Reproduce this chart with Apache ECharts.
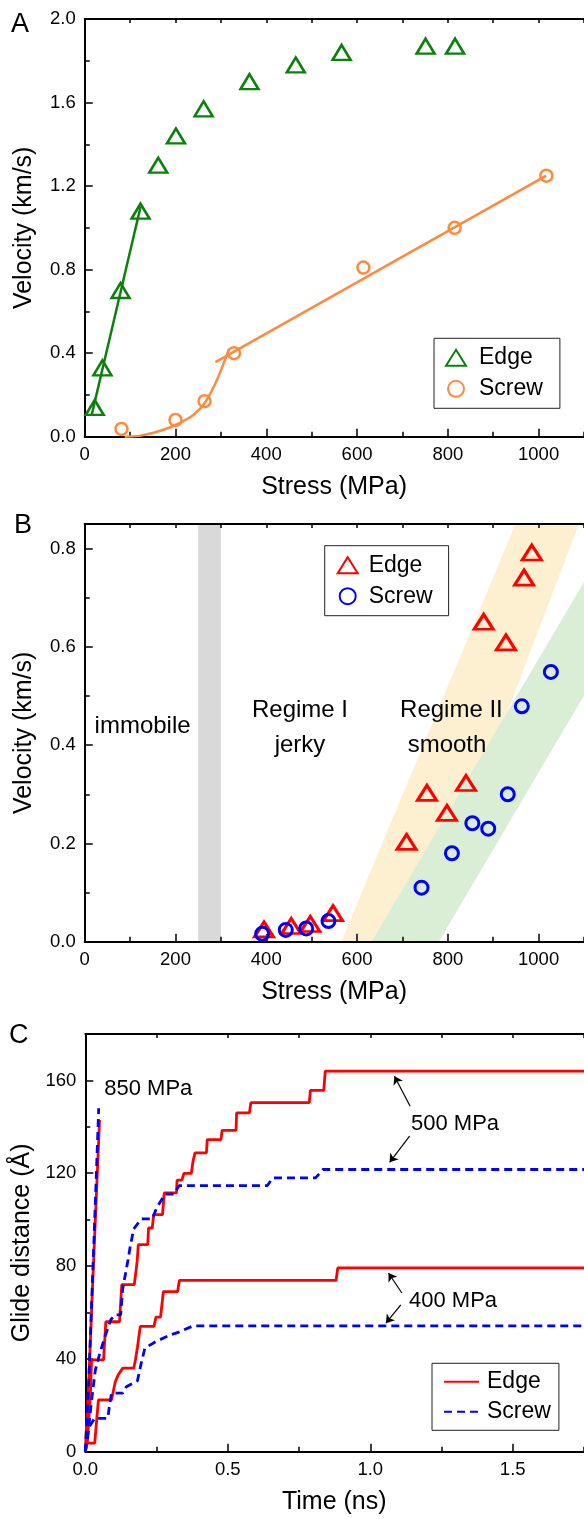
<!DOCTYPE html>
<html>
<head>
<meta charset="utf-8">
<script src="https://cdn.jsdelivr.net/npm/echarts@6/dist/echarts.min.js"></script>
<style>
  body { margin: 0; background: #fff; }
  .panel { width: 584px; }
</style>
</head>
<body>
<div id="chartA" class="panel" style="height:500px"></div>
<div id="chartB" class="panel" style="height:510px"></div>
<div id="chartC" class="panel" style="height:509px"></div>
<script>
// ---- panel A: velocity vs stress ----
const edgeStressA = [22, 39, 79, 123, 162, 201, 262, 363, 465, 566, 751, 816]
const edgeVelA = [0.14, 0.33, 0.70, 1.08, 1.30, 1.44, 1.57, 1.70, 1.78, 1.84, 1.87, 1.87]
const screwStressA = [81, 200, 264, 329, 614, 815, 1017]
const screwVelA = [0.037, 0.08, 0.17, 0.40, 0.81, 1.00, 1.25]
// fitted lines drawn in the figure
const edgeFitA = [[15, 0.10], [123, 1.10]]
const screwCurveA = [[88, 0], [120, 0.004], [150, 0.018], [180, 0.038], [200, 0.056], [220, 0.078],
  [240, 0.105], [264, 0.16], [288, 0.256], [305, 0.345], [318, 0.42]]
const screwFitA = [[288, 0.357], [1017, 1.25]]

// ---- panel B: regimes ----
const edgeStressB = [395, 455, 497, 547, 709, 754, 798, 840, 879, 928, 968, 985]
const edgeVelB = [0.025, 0.032, 0.036, 0.058, 0.203, 0.303, 0.262, 0.323, 0.651, 0.609, 0.741, 0.792]
const screwStressB = [391, 443, 488, 537, 742, 809, 854, 889, 932, 963, 1027]
const screwVelB = [0.016, 0.024, 0.027, 0.042, 0.11, 0.18, 0.241, 0.23, 0.30, 0.479, 0.549]
const grayBandX = [250, 300, 300, 250]
const grayBandY = [0, 0, 0.85, 0.85]
const orangeBandX = [565, 949, 1089, 738]
const orangeBandY = [0, 0.85, 0.85, 0]
const greenBandX = [632, 780, 1100, 1100]
const greenBandY = [0, 0, 0.501, 0.732]

// ---- panel C: glide distance vs time ----
const edge850 = [[0, 0], [0.012, 30], [0.025, 70], [0.037, 105], [0.05, 143]]
const screw850 = [[0, 0], [0.012, 30], [0.024, 70], [0.036, 110], [0.047, 148]]
const edge500 = [[0, 0], [0.008, 5], [0.018, 25], [0.022, 39.6], [0.064, 39.6], [0.072, 56], [0.12, 56],
  [0.128, 72], [0.172, 72], [0.182, 82], [0.186, 89.2], [0.219, 89.2], [0.222, 96.4], [0.235, 96.4],
  [0.24, 102.2], [0.271, 102.2], [0.277, 111.5], [0.32, 111.5], [0.322, 117], [0.339, 117],
  [0.346, 119.9], [0.372, 119.9], [0.378, 125.2], [0.385, 128.8], [0.425, 128.8], [0.428, 134.5],
  [0.476, 134.5], [0.48, 138.5], [0.529, 138.5], [0.531, 146], [0.576, 146], [0.581, 150.4],
  [0.786, 150.4], [0.79, 155.7], [0.837, 155.7], [0.842, 164], [2.0, 164]]
const screw500 = [[0, 0], [0.01, 8], [0.02, 20], [0.035, 35], [0.05, 42], [0.07, 50], [0.09, 57],
  [0.105, 59], [0.124, 59], [0.131, 70], [0.15, 82.7], [0.157, 88], [0.17, 96], [0.196, 100.3],
  [0.235, 100.3], [0.25, 105], [0.28, 111], [0.31, 111], [0.33, 114.7], [0.639, 114.7], [0.658, 118],
  [0.808, 118], [0.834, 121.6], [2.0, 121.6]]
const edge400 = [[0, 0], [0.004, 3.7], [0.033, 3.7], [0.046, 22.3], [0.092, 22.3], [0.105, 30],
  [0.115, 33], [0.131, 36], [0.17, 36], [0.176, 39.6], [0.183, 45], [0.193, 54], [0.241, 54],
  [0.248, 58], [0.264, 58], [0.274, 69], [0.324, 69], [0.33, 73.8], [0.88, 73.8], [0.886, 79.2], [2.0, 79.2]]
const screw400 = [[0, 0], [0.01, 10], [0.033, 14.4], [0.079, 14.4], [0.085, 20], [0.092, 25.2],
  [0.131, 25.2], [0.144, 28], [0.183, 30.6], [0.196, 38], [0.209, 44.6], [0.248, 47.5], [0.3, 50.4],
  [0.326, 51.4], [0.378, 54.2], [2.0, 54.2]]
const arrowsC = [
  [[1.140, 148.9], [1.085, 161.8]],
  [[1.138, 136.0], [1.068, 124.7]],
  [[1.111, 68.4], [1.064, 77.0]],
  [[1.107, 63.3], [1.055, 55.4]]
]

const FONT = '"Liberation Sans", Arial, Helvetica, sans-serif'
const BLACK = '#000'

function zip(xs, ys) {
  return xs.map((x, i) => [x, ys[i]])
}

function bottomAxis(min, max, interval, name, fmt, shift) {
  return {
    type: 'value', position: 'bottom', min: min, max: max, interval: interval,
    name: name, nameLocation: 'middle', nameGap: 38,
    nameTextStyle: { fontFamily: FONT, fontSize: 25, color: BLACK, padding: [0, shift, 0, 0] },
    axisLine: { show: true, onZero: false, lineStyle: { color: BLACK, width: 2 } },
    axisTick: { show: true, inside: true, length: 8, lineStyle: { color: BLACK, width: 1.5 } },
    minorTick: { show: true, splitNumber: 2, length: 5, lineStyle: { color: BLACK, width: 1.5 } },
    splitLine: { show: false },
    axisLabel: { fontFamily: FONT, fontSize: 18.5, color: BLACK, margin: 9, formatter: fmt }
  }
}

function topAxis(min, max, interval) {
  return {
    type: 'value', position: 'top', min: min, max: max, interval: interval,
    axisLine: { show: true, onZero: false, lineStyle: { color: BLACK, width: 2 } },
    axisTick: { show: true, inside: true, length: 4, lineStyle: { color: BLACK, width: 1.5 } },
    axisLabel: { show: false },
    splitLine: { show: false }
  }
}

function leftAxis(max, interval, name, fmt, gap, showMax) {
  return {
    type: 'value', min: 0, max: max, interval: interval,
    name: name, nameLocation: 'middle', nameGap: gap,
    nameTextStyle: { fontFamily: FONT, fontSize: 25, color: BLACK },
    axisLine: { show: true, onZero: false, lineStyle: { color: BLACK, width: 2 } },
    axisTick: { show: true, inside: true, length: 8, lineStyle: { color: BLACK, width: 1.5 } },
    minorTick: { show: true, splitNumber: 2, length: 5, lineStyle: { color: BLACK, width: 1.5 } },
    splitLine: { show: false },
    axisLabel: { fontFamily: FONT, fontSize: 18.5, color: BLACK, margin: 9, showMaxLabel: showMax, formatter: fmt }
  }
}

function legendBox(left, top, pad, gap, w, h, textPad) {
  return {
    orient: 'vertical', left: left, top: top, padding: pad, itemGap: gap,
    itemWidth: w, itemHeight: h, borderColor: '#222', borderWidth: 1, backgroundColor: '#fff',
    selectedMode: false,
    textStyle: { fontFamily: FONT, fontSize: 23, color: BLACK, padding: [0, 0, 0, textPad] },
    data: ['Edge', 'Screw']
  }
}

function panelLetter(txt, x, y) {
  return { type: 'text', left: x, top: y, style: { text: txt, font: '27px ' + FONT, fill: BLACK } }
}

function bandSeries(xs, ys, color) {
  return {
    type: 'custom', silent: true, z: -1,
    renderItem: function(params, api) {
      const pts = xs.map((x, i) => api.coord([x, ys[i]]))
      return { type: 'polygon', shape: { points: pts }, style: { fill: color } }
    },
    data: [0]
  }
}

const stressFmt = v => (v > 1000 ? '' : String(v))
const velFmt = v => v.toFixed(1)

// stress axes run to 1200 so that 1100 MPa sits on the right edge of the page
const GRID_AB = { left: 84.7, right: -45.4, height: 417.7, outerBoundsMode: 'none', containLabel: false }

// ---------- A ----------
const GREEN = '#0b800b'
const ORANGE = '#ff8a3d'
const chartA = echarts.init(document.getElementById('chartA'))
chartA.setOption({
  animation: false,
  textStyle: { fontFamily: FONT },
  grid: Object.assign({ top: 19 }, GRID_AB),
  graphic: [panelLetter('A', 11, 11)],
  legend: legendBox(434, 338.3, [8, 17, 8, 11], 8, 20, 16, 8),
  xAxis: [bottomAxis(0, 1200, 200, 'Stress (MPa)', stressFmt, 46), topAxis(0, 1200, 100)],
  yAxis: leftAxis(2.0, 0.4, 'Velocity (km/s)', velFmt, 48, true),
  series: [
    { name: 'edgeFit', type: 'line', data: edgeFitA, symbol: 'none', lineStyle: { color: GREEN, width: 2.5 } },
    { name: 'screwCurve', type: 'line', smooth: 0.4, data: screwCurveA, symbol: 'none', lineStyle: { color: ORANGE, width: 2.5 } },
    { name: 'screwFit', type: 'line', data: screwFitA, symbol: 'none', lineStyle: { color: ORANGE, width: 2.5 } },
    {
      name: 'Edge', type: 'scatter', symbol: 'triangle', symbolSize: [18, 15],
      itemStyle: { color: 'rgba(255,255,255,0)', borderColor: GREEN, borderWidth: 2.5, opacity: 1 },
      data: zip(edgeStressA, edgeVelA)
    },
    {
      name: 'Screw', type: 'scatter', symbol: 'circle', symbolSize: 12,
      itemStyle: { color: 'rgba(255,255,255,0)', borderColor: ORANGE, borderWidth: 2.5, opacity: 1 },
      data: zip(screwStressA, screwVelA)
    }
  ]
})

// ---------- B ----------
const RED = '#ff0000'
const BLUE = '#0000ff'
const chartB = echarts.init(document.getElementById('chartB'))
const noteB = (txt, x, y) => ({
  type: 'text', x: x, y: y,
  style: { text: txt, font: '24px ' + FONT, fill: BLACK, textAlign: 'center', textVerticalAlign: 'middle' }
})
chartB.setOption({
  animation: false,
  textStyle: { fontFamily: FONT },
  grid: Object.assign({ top: 24 }, GRID_AB),
  graphic: [
    panelLetter('B', 14, 12),
    noteB('immobile', 142.6, 226.7),
    noteB('Regime I', 300, 210),
    noteB('jerky', 300, 245.5),
    noteB('Regime II', 451.4, 210),
    noteB('smooth', 447, 245.5)
  ],
  legend: legendBox(324.7, 45.7, [8, 16, 8, 12], 8, 20, 16, 6),
  xAxis: [bottomAxis(0, 1200, 200, 'Stress (MPa)', stressFmt, 46), topAxis(0, 1200, 100)],
  yAxis: leftAxis(0.85, 0.2, 'Velocity (km/s)', velFmt, 48, false),
  series: [
    bandSeries(grayBandX, grayBandY, '#d9d9d9'),
    bandSeries(orangeBandX, orangeBandY, '#fdf0d1'),
    bandSeries(greenBandX, greenBandY, '#d9eed5'),
    {
      name: 'Edge', type: 'scatter', symbol: 'triangle', symbolSize: [19, 15],
      itemStyle: { color: 'rgba(255,255,255,0)', borderColor: RED, borderWidth: 3, opacity: 1 },
      data: zip(edgeStressB, edgeVelB)
    },
    {
      name: 'Screw', type: 'scatter', symbol: 'circle', symbolSize: 13,
      itemStyle: { color: 'rgba(255,255,255,0)', borderColor: BLUE, borderWidth: 3, opacity: 1 },
      data: zip(screwStressB, screwVelB)
    }
  ]
})

// ---------- C ----------
const chartC = echarts.init(document.getElementById('chartC'))
const noteC = (txt, x, y) => ({
  type: 'text', x: x, y: y,
  style: { text: txt, font: '22px ' + FONT, fill: BLACK, textAlign: 'left', textVerticalAlign: 'middle' }
})
const edgeLine = (data) => ({
  name: 'Edge', type: 'line', data: data, symbol: 'none', z: 3,
  lineStyle: { color: RED, width: 2.8 }, itemStyle: { color: RED }
})
const screwLine = (data) => ({
  name: 'Screw', type: 'line', data: data, symbol: 'none', z: 4,
  lineStyle: { color: BLUE, width: 2.8, type: [8, 5] }, itemStyle: { color: BLUE }
})
const legendC = legendBox(432, 353.3, [7, 8, 7, 11], 7, 35, 14, 3)
legendC.itemStyle = { opacity: 0 }
chartC.setOption({
  animation: false,
  textStyle: { fontFamily: FONT },
  // time axis runs to 2.0 so that 1.75 ns sits on the right edge of the page
  grid: { left: 85.3, right: -71.2, top: 24, height: 417.7, outerBoundsMode: 'none', containLabel: false },
  graphic: [
    panelLetter('C', 9, 12),
    noteC('850 MPa', 104.3, 79),
    noteC('500 MPa', 411, 114.3),
    noteC('400 MPa', 409, 290.7)
  ],
  legend: legendC,
  xAxis: [
    bottomAxis(0, 2.0, 0.5, 'Time (ns)', v => (v > 1.5 ? '' : v.toFixed(1)), 72),
    topAxis(0, 2.0, 0.25)
  ],
  yAxis: leftAxis(180, 40, 'Glide distance (Å)', v => String(v), 51, false),
  series: [
    edgeLine(edge850), edgeLine(edge500), edgeLine(edge400),
    screwLine(screw850), screwLine(screw500), screwLine(screw400),
    {
      name: 'arrows', type: 'lines', coordinateSystem: 'cartesian2d', z: 5,
      symbol: ['none', 'arrow'], symbolSize: 8,
      lineStyle: { color: BLACK, width: 1.2, opacity: 1 },
      data: arrowsC.map(c => ({ coords: c }))
    }
  ]
})
</script>
</body>
</html>
